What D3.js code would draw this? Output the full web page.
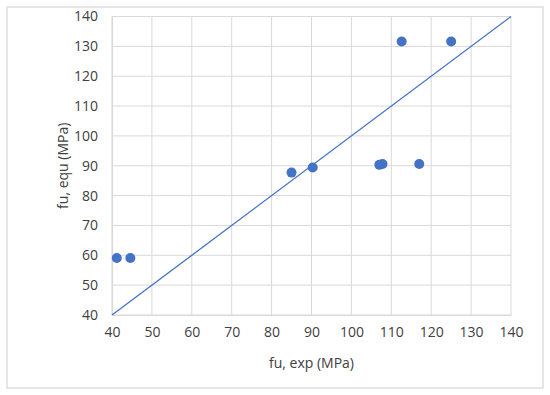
<!DOCTYPE html>
<html><head><meta charset="utf-8">
<script src="https://cdn.jsdelivr.net/npm/d3@7"></script>
<style>body{margin:0;background:#fff;}svg{display:block;}</style>
</head><body>
<script>
const expValues = [41.2, 44.6, 85.0, 90.3, 107.0, 107.8, 117.0, 112.6, 125.0];
const equValues = [59.1, 59.1, 87.7, 89.4, 90.3, 90.6, 90.6, 131.6, 131.6];
const ticks = [40, 50, 60, 70, 80, 90, 100, 110, 120, 130, 140];
const lineEnds = [40, 140];
const xTitle = "fu, exp (MPa)";
const yTitle = "fu, equ (MPa)";

const W = 550, H = 395;
const m = {left: 112, right: 39, top: 16.5, bottom: 80};
const svg = d3.select("body").append("svg").attr("width", W).attr("height", H);
svg.append("rect").attr("x", 7).attr("y", 7).attr("width", 536).attr("height", 381)
  .attr("fill", "#fff").attr("stroke", "#d9d9d9").attr("stroke-width", 1.3);

const x = d3.scaleLinear().domain([40, 140]).range([m.left, W - m.right]);
const y = d3.scaleLinear().domain([40, 140]).range([H - m.bottom - 16, m.top]);
// y range: 315 -> 16.5
y.range([315, 16.5]);

const font = "'Open Sans', sans-serif";
const g = svg.append("g");
// grid
g.selectAll(".vg").data(ticks).enter().append("line")
  .attr("x1", d => x(d)).attr("x2", d => x(d)).attr("y1", y(40)).attr("y2", y(140))
  .attr("stroke", "#d9d9d9").attr("stroke-width", 1);
g.selectAll(".hg").data(ticks).enter().append("line")
  .attr("y1", d => y(d)).attr("y2", d => y(d)).attr("x1", x(40)).attr("x2", x(140))
  .attr("stroke", "#d9d9d9").attr("stroke-width", 1);

const xAxis = svg.append("g").attr("transform", `translate(0,${y(40)})`)
  .call(d3.axisBottom(x).tickValues(ticks).tickSize(0).tickPadding(12));
const yAxis = svg.append("g").attr("transform", `translate(${x(40)},0)`)
  .call(d3.axisLeft(y).tickValues(ticks).tickSize(0).tickPadding(14));
[xAxis, yAxis].forEach(a => {
  a.select(".domain").attr("stroke", "#d9d9d9").attr("stroke-width", 1.2);
  a.selectAll("text").attr("fill", "#404040").style("font-family", font).style("font-size", "14px");
});

// 1:1 line
svg.append("line").attr("x1", x(lineEnds[0])).attr("y1", y(lineEnds[0]))
  .attr("x2", x(lineEnds[1])).attr("y2", y(lineEnds[1]))
  .attr("stroke", "#4472C4").attr("stroke-width", 1.3);

svg.selectAll(".pt").data(expValues).enter().append("circle")
  .attr("cx", d => x(d)).attr("cy", (d, i) => y(equValues[i])).attr("r", 5)
  .attr("fill", "#4472C4");

svg.append("text").attr("x", (x(40) + x(140)) / 2).attr("y", 368)
  .attr("text-anchor", "middle").attr("fill", "#404040")
  .style("font-family", font).style("font-size", "14px").text(xTitle);
svg.append("text").attr("transform", `translate(68,${(y(40) + y(140)) / 2}) rotate(-90)`)
  .attr("text-anchor", "middle").attr("fill", "#404040")
  .style("font-family", font).style("font-size", "14px").text(yTitle);
</script>
</body></html>
